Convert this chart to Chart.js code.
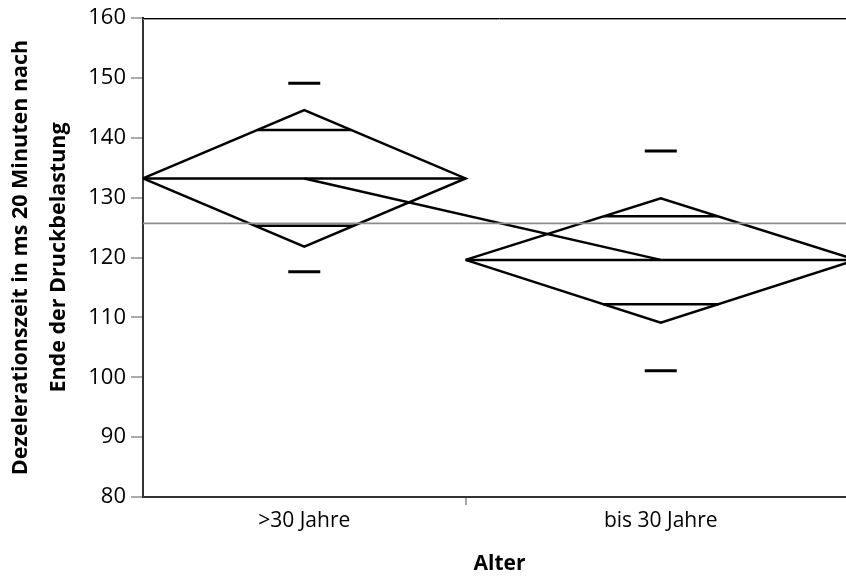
<!DOCTYPE html>
<html>
<head>
<meta charset="utf-8">
<script src="https://cdn.jsdelivr.net/npm/chart.js@4"></script>
<style>
  html, body { margin: 0; padding: 0; background: #fff; overflow: hidden; }
  #wrap { width: 846px; height: 577px; overflow: hidden; }
  #c { display: block; }
</style>
</head>
<body>
<div id="wrap"><canvas id="c" width="856" height="577"></canvas></div>
<script>
// ---- data ----
const groups = ['>30 Jahre', 'bis 30 Jahre'];
const groupN = [19, 23];                 // relative group sizes (diamond widths)
const means = [133.2, 119.6];
const ciUpper = [144.6, 129.9];
const ciLower = [121.8, 109.1];
const overlapUpper = [141.3, 126.9];
const overlapLower = [125.3, 112.2];
const sdUpper = [149.1, 137.8];
const sdLower = [117.6, 101.1];
const grandMean = 125.7;
const yTicks = [80, 90, 100, 110, 120, 130, 140, 150, 160];
const yTitle = ['Dezelerationszeit in ms 20 Minuten nach', 'Ende der Druckbelastung'];
const xTitle = 'Alter';

// ---- derived geometry in data units ----
const total = groupN.reduce((a, b) => a + b, 0);
const starts = [], ends = [], centers = [];
let acc = 0;
groupN.forEach(n => { starts.push(acc); ends.push(acc + n); centers.push(acc + n / 2); acc += n; });
const boundaries = starts.slice(1);

const FONT = '"Open Sans", "Noto Sans", sans-serif';
const datasets = [];
const lineDs = (data, extra) => Object.assign({
  data, showLine: true, borderColor: '#000', borderWidth: 2.5, pointRadius: 0,
  fill: false, tension: 0, clip: false
}, extra || {});

// grand mean line
datasets.push(lineDs([{x: 0, y: grandMean}, {x: total, y: grandMean}], {borderColor: '#8c8c8c', borderWidth: 1.6}));

groups.forEach((g, i) => {
  const s = starts[i], e = ends[i], c = centers[i], m = means[i];
  // diamond
  datasets.push(lineDs([
    {x: s, y: m}, {x: c, y: ciUpper[i]}, {x: e, y: m}, {x: c, y: ciLower[i]}, {x: s, y: m}
  ]));
  // mean line
  datasets.push(lineDs([{x: s, y: m}, {x: e, y: m}]));
  // overlap marks (extend to diamond edges)
  const half = (e - s) / 2;
  const ou = half * (1 - (overlapUpper[i] - m) / (ciUpper[i] - m));
  const ol = half * (1 - (m - overlapLower[i]) / (m - ciLower[i]));
  datasets.push(lineDs([{x: c - ou, y: overlapUpper[i]}, {x: c + ou, y: overlapUpper[i]}]));
  datasets.push(lineDs([{x: c - ol, y: overlapLower[i]}, {x: c + ol, y: overlapLower[i]}]));
  // std dev dashes
  datasets.push({
    data: [{x: c, y: sdUpper[i]}, {x: c, y: sdLower[i]}],
    showLine: false, pointStyle: 'line', pointRadius: 16, pointHoverRadius: 16,
    borderColor: '#000', pointBorderWidth: 3, borderWidth: 3, clip: false
  });
});
// line connecting the means
datasets.push(lineDs(centers.map((c, i) => ({x: c, y: means[i]}))));

const framePlugin = {
  id: 'frame',
  afterDraw(chart) {
    const {ctx, chartArea: a} = chart;
    ctx.save();
    ctx.strokeStyle = '#000'; ctx.lineWidth = 1;
    ctx.beginPath(); ctx.moveTo(a.left, a.top + 0.5); ctx.lineTo(a.right, a.top + 0.5); ctx.stroke();
    ctx.strokeStyle = '#9a9a9a';
    ctx.beginPath(); ctx.moveTo(a.left, a.top + 1.5); ctx.lineTo(a.right, a.top + 1.5); ctx.stroke();
    ctx.restore();
  }
};

new Chart(document.getElementById('c'), {
  type: 'scatter',
  data: { datasets },
  plugins: [framePlugin],
  options: {
    responsive: false,
    animation: false,
    events: [],
    layout: { autoPadding: false, padding: { top: 18, right: 0, left: 0, bottom: 0 } },
    plugins: { legend: { display: false }, tooltip: { enabled: false } },
    scales: {
      x: {
        type: 'linear', min: 0, max: total,
        afterFit(scale) { scale.height = 80; scale.paddingLeft = 0; scale.paddingRight = 0; },
        afterBuildTicks(scale) {
          const t = centers.map(v => ({value: v})).concat(boundaries.map(v => ({value: v})));
          t.sort((a, b) => a.value - b.value);
          scale.ticks = t;
        },
        ticks: {
          autoSkip: false, maxRotation: 0, padding: 3,
          color: '#000', font: { family: FONT, size: 21 },
          callback(v) { const i = centers.indexOf(v); return i >= 0 ? groups[i] : ''; }
        },
        grid: {
          drawOnChartArea: false, drawTicks: true, tickLength: 8, lineWidth: 2,
          tickColor(ctx) { return boundaries.includes(ctx.tick && ctx.tick.value) ? '#aaaaaa' : 'rgba(0,0,0,0)'; }
        },
        border: { display: true, color: '#333', width: 2 },
        title: { display: true, text: xTitle, color: '#000', font: { family: FONT, size: 21, weight: 'bold' }, padding: { top: 0, bottom: 0 } }
      },
      y: {
        type: 'linear', min: 80, max: 160,
        afterFit(scale) { scale.width = 143; scale.paddingTop = 0; scale.paddingBottom = 0; },
        afterBuildTicks(scale) { scale.ticks = yTicks.map(v => ({value: v})); },
        ticks: { color: '#000', padding: 5, font: { family: FONT, size: 22 } },
        grid: { drawOnChartArea: false, drawTicks: true, tickLength: 12, lineWidth: 2, tickColor: '#aaaaaa' },
        border: { display: true, color: '#333', width: 2 },
        title: { display: true, text: yTitle, color: '#000', font: { family: FONT, size: 21.5, weight: 'bold', lineHeight: 1.75 }, padding: { top: 2, bottom: 0 } }
      }
    }
  }
});
</script>
</body>
</html>
